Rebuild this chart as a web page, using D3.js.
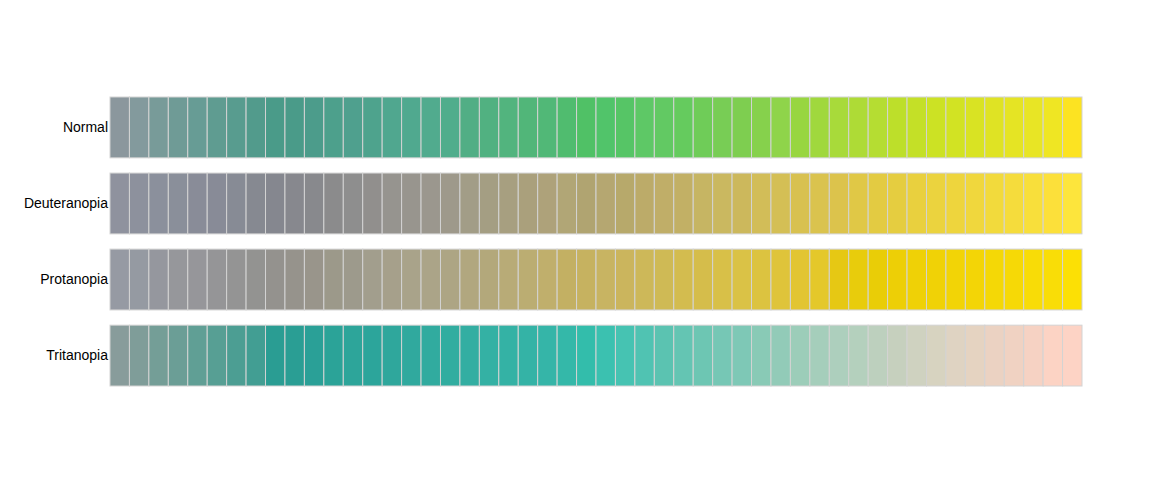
<!DOCTYPE html>
<html>
<head>
<meta charset="utf-8">
<script src="https://cdn.jsdelivr.net/npm/d3@7"></script>
<style>
  html, body { margin: 0; padding: 0; background: #fff; }
  svg { display: block; }
</style>
</head>
<body>
<svg id="chart" width="1157" height="486"></svg>
<script>
const categories = ["Normal", "Deuteranopia", "Protanopia", "Tritanopia"];

const normalColors = [
  "#8b979d","#839a9d","#789b99","#6f9b96","#679c95","#5f9c91","#589c8f","#529b8c","#4a9b89","#4a9b89",
  "#4c9c8b","#4da08c","#4fa08e","#4ea38d","#50a78f","#50a98f","#51ab8e","#50ad8c","#51ae85","#51b181",
  "#52b47e","#51b679","#51b877","#50bc6f","#50c166","#51c46a","#56c566","#5ec866","#62c963","#65cb5e",
  "#6fcc58","#78cd55","#7ece50","#86d14c","#8fd44a","#98d640","#a0d83d","#a8da3a","#aedb36","#b5dd32",
  "#bddf2a","#c4e027","#cce224","#d2e323","#d9e323","#dfe324","#e5e424","#e8e525","#efe623","#fce322"
];
const deuteranopiaColors = [
  "#8f929e","#8d919d","#8b909c","#8a8f9a","#898c98","#888b97","#878b95","#868991","#85878f","#87888e",
  "#88898d","#8b8b8c","#8e8e8e","#918f8d","#96948f","#98958e","#9b978e","#9e998b","#a29d87","#a49e83",
  "#a79f80","#aaa07c","#aea27a","#b1a676","#b0a471","#b5a771","#b7a96b","#bcab69","#c0ae68","#c2b065",
  "#c6b563","#cab860","#ccb85c","#d2bd58","#d4bf55","#d8c150","#dac34e","#dcc34c","#e0c846","#e3cb42",
  "#e5cd40","#e9d03e","#ebd33e","#eed53d","#f0d73d","#f2da3c","#f5dc3c","#f8df3b","#fce03a","#fde53c"
];
const protanopiaColors = [
  "#969aa3","#959aa2","#95979e","#96979b","#96969a","#959597","#949494","#939391","#94928e","#96938c",
  "#99958b","#9c998a","#9d9a8c","#a29e8d","#a6a08b","#a9a38a","#aba488","#ada584","#b1a77f","#b3a87b",
  "#b8ab77","#bbad72","#c0af6c","#c3b063","#c6b260","#c8b462","#cbb55d","#cdb859","#cfba55","#d3bc4f",
  "#d5bd4b","#d8c048","#dac246","#dcc340","#dfc43a","#e2c532","#e4c82a","#e6c814","#e8cc0c","#e9cd07",
  "#edcf06","#efd106","#f0d206","#f2d406","#f3d506","#f4d806","#f6d906","#f8dc07","#f9dd07","#fce005"
];
const tritanopiaColors = [
  "#889c9b","#7f9d99","#749e97","#6b9e96","#609f95","#579f94","#4c9e93","#429e93","#2a9d93","#2a9e94",
  "#2aa097","#2ba398","#2da59a","#2ca59b","#2fa79c","#30a99e","#31ab9f","#31ada0","#33aea2","#34b1a4",
  "#34b2a5","#34b3a6","#35b5a8","#34b8a9","#33bdab","#3bc1b0","#46c3b2","#50c3b2","#5bc3b1","#64c5b3",
  "#6dc6b3","#76c7b5","#7ec8b6","#89cab6","#92cbb8","#9ccdb9","#a5cebb","#adcfbd","#b4d0bd","#bdd0be",
  "#c6d0be","#cfd2c0","#d7d3c0","#dfd3c2","#e5d3c1","#ebd2c2","#f0d2c2","#f6d2c3","#fcd3c4","#fdd3c5"
];

const rowColors = [normalColors, deuteranopiaColors, protanopiaColors, tritanopiaColors];

const svg = d3.select("#chart");
const plot = { left: 110, right: 1082, top: 89.4, bottom: 393.6 };

const steps = d3.range(normalColors.length);
const x = d3.scaleBand().domain(steps).range([plot.left, plot.right]).padding(0);
const y = d3.scaleBand().domain(categories).range([plot.top, plot.bottom])
  .paddingInner(0.2).paddingOuter(0.1);

const rows = svg.append("g").selectAll("g.row")
  .data(categories.map((c, i) => ({ name: c, colors: rowColors[i] })))
  .join("g").attr("class", "row");

rows.selectAll("rect")
  .data(d => d.colors.map((col, j) => ({ row: d.name, j, col })))
  .join("rect")
  .attr("x", d => x(d.j))
  .attr("y", d => y(d.row))
  .attr("width", x.bandwidth())
  .attr("height", y.bandwidth())
  .attr("fill", d => d.col)
  .attr("stroke", "#d3d3d3")
  .attr("stroke-width", 1);

const yAxis = d3.axisLeft(y).tickSize(0).tickPadding(2);
const ag = svg.append("g").attr("transform", `translate(${plot.left},0)`).call(yAxis);
ag.select(".domain").remove();
ag.attr("font-size", null).attr("font-family", null);
ag.selectAll("text")
  .style("font-family", "Arial, 'Liberation Sans', sans-serif")
  .style("font-size", "14px")
  .attr("fill", "#000");
</script>
</body>
</html>
